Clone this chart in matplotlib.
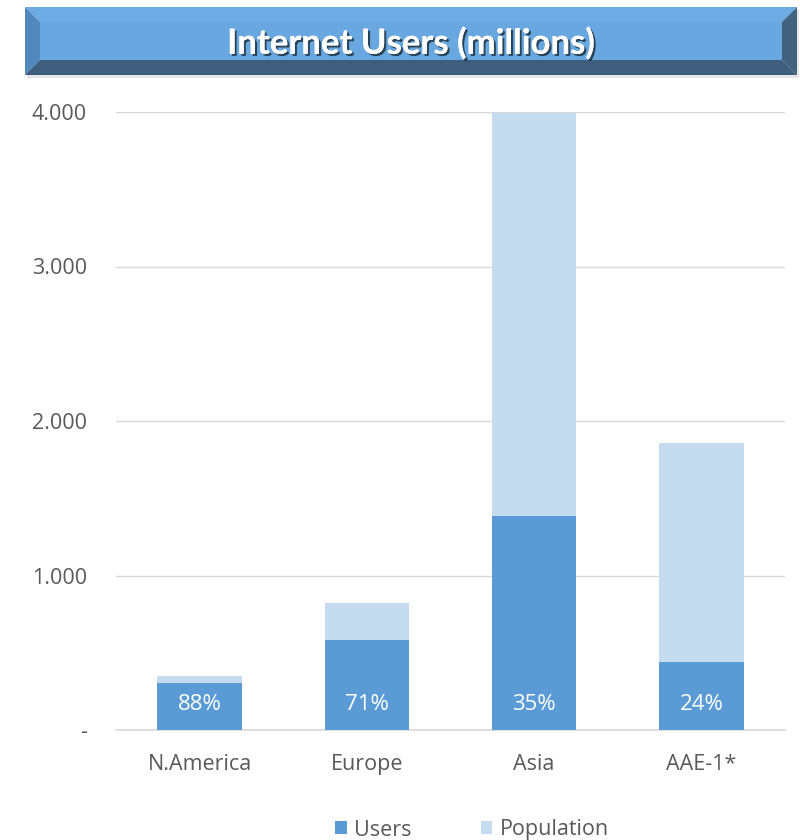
import matplotlib.pyplot as plt
from matplotlib.patches import Polygon, Rectangle
import matplotlib.patheffects as pe
from matplotlib.ticker import FuncFormatter

# Data (millions)
regions = ["N.America", "Europe", "Asia", "AAE-1*"]
users = [305, 584, 1388, 440]
population = [348, 822, 3995, 1858]
share_labels = ["88%", "71%", "35%", "24%"]

plt.rcParams['font.family'] = ['Open Sans', 'DejaVu Sans']

fig = plt.figure(figsize=(8, 8.4), dpi=100)

# title banner drawn in pixel coordinates on a background axes
bg = fig.add_axes([0, 0, 1, 1])
bg.set_xlim(0, 800)
bg.set_ylim(840, 0)
bg.axis('off')
bg.add_patch(Rectangle((27, 10), 772, 68, color='#000000', alpha=0.10, lw=0))
bg.add_patch(Rectangle((40, 22), 742, 38, color='#68A7DF', lw=0))
bg.add_patch(Polygon([(25, 7), (797, 7), (782, 22), (40, 22)], color='#6CABE3', lw=0))
bg.add_patch(Polygon([(25, 7), (40, 22), (40, 60), (25, 75)], color='#5189BE', lw=0))
bg.add_patch(Polygon([(25, 75), (40, 60), (782, 60), (797, 75)], color='#3F5E7E', lw=0))
bg.add_patch(Polygon([(797, 7), (797, 75), (782, 60), (782, 22)], color='#41617F', lw=0))
bg.text(411, 43.5, "Internet Users (millions)", color='white', fontsize=25,
        fontweight='bold', family=['Lato', 'DejaVu Sans'], ha='center', va='center',
        path_effects=[pe.withSimplePatchShadow(offset=(1.5, -1.5), shadow_rgbFace='black', alpha=0.6),
                      pe.Normal()])

ax = fig.add_axes([116 / 800, 110 / 840, 669 / 800, 618 / 840])
x = range(len(regions))
rest = [p - u for p, u in zip(population, users)]
b1 = ax.bar(x, users, width=0.505, color='#5B9BD5', label='Users', zorder=3)
b2 = ax.bar(x, rest, bottom=users, width=0.505, color='#C5DBF0', label='Population', zorder=3)

for i, lab in enumerate(share_labels):
    ax.annotate(lab, xy=(i, 0), xytext=(0, 18.7), textcoords='offset points',
                ha='center', va='center', color='white', fontsize=16, zorder=4)

ax.set_xlim(-0.5, 3.5)
ax.set_ylim(0, 4000)
ax.set_yticks([0, 1000, 2000, 3000, 4000])
ax.yaxis.set_major_formatter(FuncFormatter(lambda v, p: '-' if v == 0 else f"{int(v):,}".replace(',', '.')))
ax.set_xticks(list(x))
ax.set_xticklabels(regions)
ax.tick_params(axis='y', length=0, pad=21, labelsize=15.5, labelcolor='#595959')
ax.tick_params(axis='x', length=0, pad=17, labelsize=15.5, labelcolor='#595959')
ax.yaxis.grid(True, color='#D9D9D9', lw=1, zorder=0)
for s in ['top', 'right', 'left']:
    ax.spines[s].set_visible(False)
ax.spines['bottom'].set_color('#D9D9D9')
ax.spines['bottom'].set_linewidth(1.2)

fig.legend(handles=[b1, b2], loc='center', bbox_to_anchor=(472 / 800, 1 - 830 / 840),
           ncol=2, frameon=False, fontsize=15.5, handlelength=0.55, handleheight=0.55,
           handletextpad=0.35, columnspacing=3.2, labelcolor='#595959')

fig.savefig('out.png', dpi=100)
